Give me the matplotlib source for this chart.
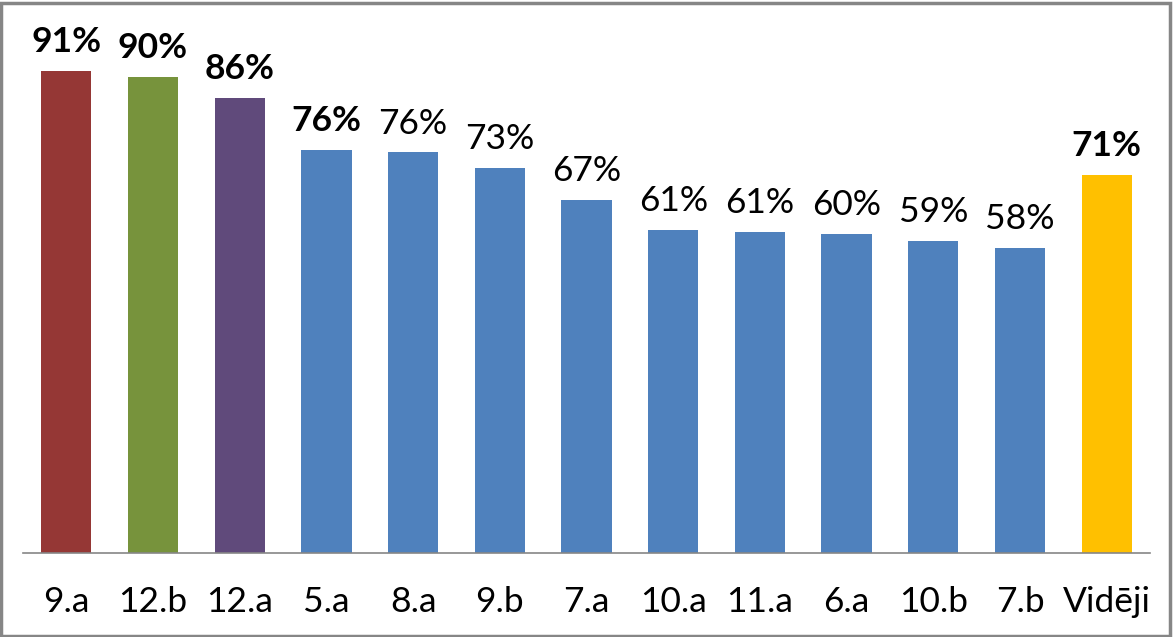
import numpy as np
import matplotlib.pyplot as plt
from matplotlib.patches import Rectangle

plt.rcParams['font.family'] = ['Lato', 'DejaVu Sans']

classes = ['9.a', '12.b', '12.a', '5.a', '8.a', '9.b', '7.a', '10.a', '11.a', '6.a', '10.b', '7.b', 'Vidēji']
values = [91.0, 89.8, 85.9, 76.0, 75.6, 72.6, 66.6, 60.9, 60.6, 60.2, 58.9, 57.6, 71.3]

# styling
blue = '#4F81BD'
colors = ['#953735', '#77933C', '#604A7B'] + [blue] * 9 + ['#FFC000']
bold = [True, True, True, True] + [False] * 8 + [True]

fig = plt.figure(figsize=(11.74, 6.37), dpi=100)
ax = fig.add_axes([23 / 1174, 84 / 637, 1127 / 1174, 530 / 637])

x = np.arange(len(classes))
bars = ax.bar(x, values, width=0.58, color=colors, zorder=2)

for b, v, bf in zip(bars, values, bold):
    ax.annotate(f'{v:.0f}%', (b.get_x() + b.get_width() / 2, v),
                xytext=(0, 13.5), textcoords='offset points',
                ha='center', va='baseline', fontsize=25.5,
                fontweight='bold' if bf else 'normal', color='black')

ax.set_xlim(-0.5, len(classes) - 0.5)
ax.set_ylim(0, 100)
ax.set_xticks(x)
ax.set_xticklabels(classes, fontsize=25.5)
ax.tick_params(axis='x', length=0, pad=24)
ax.set_yticks([])
for s in ['top', 'right', 'left']:
    ax.spines[s].set_visible(False)
ax.spines['bottom'].set_color('#868686')
ax.spines['bottom'].set_linewidth(1.2)

fig.patches.append(Rectangle((0.001, 0.002), 0.996, 0.994, transform=fig.transFigure,
                             fill=False, edgecolor='#868686', linewidth=2.5))

fig.savefig('out.png', dpi=100)
